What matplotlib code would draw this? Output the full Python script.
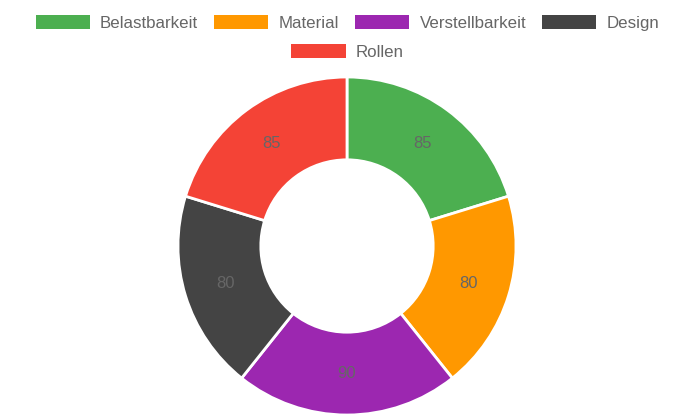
import matplotlib.pyplot as plt
from matplotlib.patches import Patch

# -- Data
categories = ['Belastbarkeit', 'Material', 'Verstellbarkeit', 'Design', 'Rollen']
values = [85, 80, 90, 80, 85]
colors = ['#4CAF50', '#FF9800', '#9C27B0', '#444444', '#F44336']

plt.rcParams['font.family'] = ['Liberation Sans', 'DejaVu Sans']

fig = plt.figure(figsize=(6.95, 4.17), dpi=100)
# pie centred at (347, 246) px, outer radius ~169 px
ax = fig.add_axes([178 / 695, 2 / 417, 338 / 695, 338 / 417])

total = sum(values)
wedges, _, autotexts = ax.pie(
    values,
    colors=colors,
    startangle=90,
    counterclock=False,
    radius=1.0,
    wedgeprops=dict(width=0.49, edgecolor='white', linewidth=2),
    autopct=lambda p: f'{round(p * total / 100)}',
    pctdistance=0.755,
    textprops=dict(color='#666666', fontsize=12),
)
ax.set_xlim(-1, 1)
ax.set_ylim(-1, 1)
ax.set_aspect('equal')
ax.axis('off')

# -- Legend (two centred rows)
handles = [Patch(facecolor=c, edgecolor='none', label=l) for c, l in zip(colors, categories)]
common = dict(loc='center', frameon=False, handlelength=3.2, handleheight=0.85,
              handletextpad=0.6, columnspacing=0.95, fontsize=12.2, labelcolor='#666666')
leg1 = fig.legend(handles=handles[:4], ncol=4, bbox_to_anchor=(0.5, 0.945), **common)
leg2 = fig.legend(handles=handles[4:], ncol=1, bbox_to_anchor=(0.5, 0.875), **common)

plt.savefig('out.png', dpi=100)
